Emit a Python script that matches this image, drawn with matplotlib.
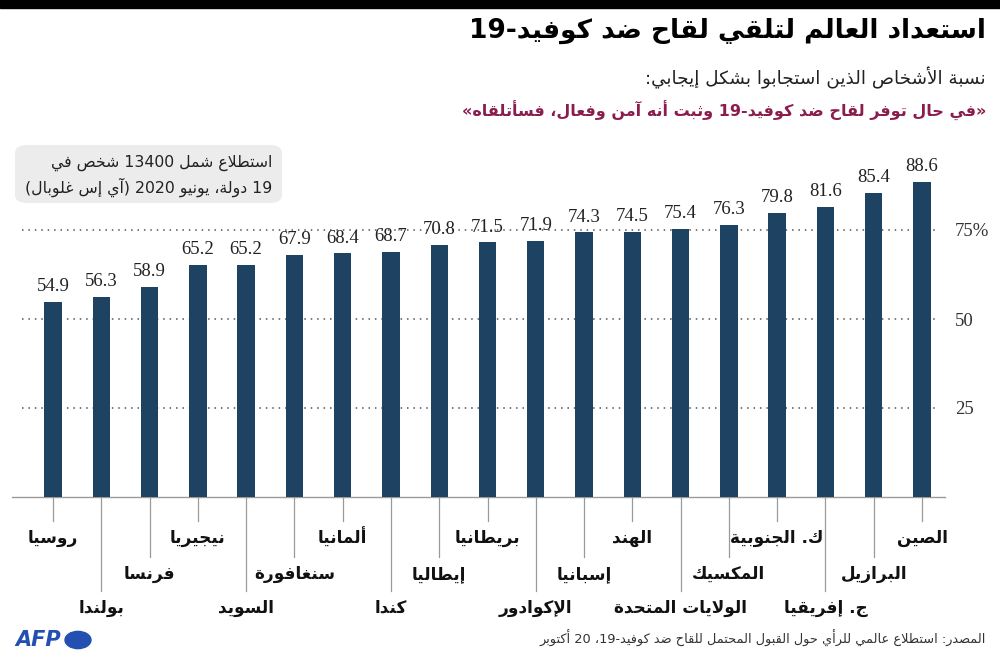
import re
import matplotlib
matplotlib.use('Agg')
import matplotlib.pyplot as plt
from matplotlib.patches import FancyBboxPatch, Circle
from matplotlib.transforms import blended_transform_factory

# --- data ---
countries = ['روسيا', 'بولندا', 'فرنسا', 'نيجيريا', 'السويد', 'سنغافورة', 'ألمانيا',
             'كندا', 'إيطاليا', 'بريطانيا', 'الإكوادور', 'إسبانيا', 'الهند',
             'الولايات المتحدة', 'المكسيك', 'ك. الجنوبية', 'ج. إفريقيا', 'البرازيل', 'الصين']
values = [54.9, 56.3, 58.9, 65.2, 65.2, 67.9, 68.4, 68.7, 70.8, 71.5,
          71.9, 74.3, 74.5, 75.4, 76.3, 79.8, 81.6, 85.4, 88.6]
yticks = [25, 50, 75]
ytick_labels = ['25', '50', '75%']

title = 'استعداد العالم لتلقي لقاح ضد كوفيد-19'
subtitle = 'نسبة الأشخاص الذين استجابوا بشكل إيجابي:'
quote = '«في حال توفر لقاح ضد كوفيد-19 وثبت أنه آمن وفعال، فسأتلقاه»'
note1 = 'استطلاع شمل 13400 شخص في'
note2 = '19 دولة، يونيو 2020 (آي إس غلوبال)'
source = 'المصدر: استطلاع عالمي للرأي حول القبول المحتمل للقاح ضد كوفيد-19، 20 أكتوبر'


# --- tiny arabic shaper + bidi (matplotlib has no complex text layout) ---
def _dual(b):
    return (b, b + 1, b + 2, b + 3)

def _right(b):
    return (b, b + 1)

FORMS = {
    'ء': (0xFE80,), 'آ': _right(0xFE81), 'أ': _right(0xFE83), 'ؤ': _right(0xFE85),
    'إ': _right(0xFE87), 'ئ': _dual(0xFE89), 'ا': _right(0xFE8D), 'ب': _dual(0xFE8F),
    'ة': _right(0xFE93), 'ت': _dual(0xFE95), 'ث': _dual(0xFE99), 'ج': _dual(0xFE9D),
    'ح': _dual(0xFEA1), 'خ': _dual(0xFEA5), 'د': _right(0xFEA9), 'ذ': _right(0xFEAB),
    'ر': _right(0xFEAD), 'ز': _right(0xFEAF), 'س': _dual(0xFEB1), 'ش': _dual(0xFEB5),
    'ص': _dual(0xFEB9), 'ض': _dual(0xFEBD), 'ط': _dual(0xFEC1), 'ظ': _dual(0xFEC5),
    'ع': _dual(0xFEC9), 'غ': _dual(0xFECD), 'ف': _dual(0xFED1), 'ق': _dual(0xFED5),
    'ك': _dual(0xFED9), 'ل': _dual(0xFEDD), 'م': _dual(0xFEE1), 'ن': _dual(0xFEE5),
    'ه': _dual(0xFEE9), 'و': _right(0xFEED), 'ى': _right(0xFEEF), 'ي': _dual(0xFEF1),
}
LAMALEF = {'آ': (0xFEF5, 0xFEF6), 'أ': (0xFEF7, 0xFEF8),
           'إ': (0xFEF9, 0xFEFA), 'ا': (0xFEFB, 0xFEFC)}
MIRROR = str.maketrans('()«»', ')(»«')


def shape(s):
    out = []
    prev_joins = False
    i = 0
    while i < len(s):
        c = s[i]
        if c == 'ل' and i + 1 < len(s) and s[i + 1] in LAMALEF:
            out.append(chr(LAMALEF[s[i + 1]][1 if prev_joins else 0]))
            prev_joins = False
            i += 2
            continue
        if c not in FORMS:
            out.append(c)
            prev_joins = False
            i += 1
            continue
        f = FORMS[c]
        nxt = s[i + 1] if i + 1 < len(s) else ''
        next_joins = len(f) == 4 and nxt in FORMS and nxt != 'ء'
        if len(f) == 1:
            form = f[0]
        elif prev_joins and next_joins:
            form = f[3]
        elif prev_joins:
            form = f[1]
        elif next_joins:
            form = f[2]
        else:
            form = f[0]
        out.append(chr(form))
        prev_joins = next_joins
        i += 1
    return ''.join(out)


def ar(s):
    parts = re.split(r'([0-9A-Za-z][0-9A-Za-z.%]*)', shape(s))
    vis = [p if k % 2 else p[::-1].translate(MIRROR) for k, p in enumerate(parts)]
    return ''.join(vis[::-1])


AR = ['DejaVu Sans']
SERIF = ['Liberation Serif', 'DejaVu Serif']
BAR = '#1d4262'

W, H = 1000, 663
fig = plt.figure(figsize=(10, 6.63), dpi=100)

def fx(px):
    return px / W

def fy(py):
    return 1 - py / H

# top black band
fig.patches.append(plt.Rectangle((0, fy(8)), 1, 8 / H, transform=fig.transFigure,
                                 color='black', zorder=0))

ax = fig.add_axes([fx(12), fy(497), 933 / W, (497 - 141) / H])
x = list(range(len(values)))
ax.bar(x, values, width=0.36, color=BAR, zorder=3)
ax.set_xlim(-0.849, 18.476)
ax.set_ylim(0, 100)

for v, xi in zip(values, x):
    ax.annotate(f'{v}', (xi, v), xytext=(0, 5), textcoords='offset points',
                ha='center', va='bottom', fontsize=13.5, family=SERIF, color='#222222')

for yt in yticks:
    ax.axhline(yt, xmin=0.011, xmax=0.99, color='#555555', lw=1.1,
               linestyle=(0, (1, 3.2)), zorder=1)

for s in ['top', 'left', 'right']:
    ax.spines[s].set_visible(False)
ax.spines['bottom'].set_color('#9a9a9a')
ax.spines['bottom'].set_linewidth(1)
ax.set_xticks([])
ax.yaxis.tick_right()
ax.set_yticks(yticks)
ax.set_yticklabels(ytick_labels, family=SERIF, fontsize=13.5, color='#333333')
ax.tick_params(axis='y', length=0, pad=7)

# staggered country labels with leader lines
tr = blended_transform_factory(ax.transData, fig.transFigure)
line_end = [521, 557, 591]
text_y = [538, 574, 608]
for xi, name in zip(x, countries):
    lvl = [0, 2, 1][xi % 3]
    ax.plot([xi, xi], [fy(498), fy(line_end[lvl])], transform=tr, color='#9a9a9a',
            lw=0.9, clip_on=False)
    ax.text(xi, fy(text_y[lvl]), ar(name), transform=tr, ha='center', va='center',
            fontsize=12.2, fontweight='bold', family=AR, color='#111111')

# titles
fig.text(fx(986), fy(31), ar(title), ha='right', va='center', fontsize=19,
         fontweight='bold', family=AR, color='black')
fig.text(fx(986), fy(78), ar(subtitle), ha='right', va='center', fontsize=13.2,
         family=AR, color='#222222')
fig.text(fx(986), fy(111), ar(quote), ha='right', va='center', fontsize=11.5,
         fontweight='bold', family=AR, color='#8a1d4d')

# note box
box = FancyBboxPatch((fx(15), fy(203)), fx(267), (203 - 145) / H,
                     boxstyle='round,pad=0,rounding_size=0.012',
                     transform=fig.transFigure, facecolor='#ececec', edgecolor='none')
fig.patches.append(box)
fig.text(fx(272), fy(163), ar(note1), ha='right', va='center', fontsize=11.3,
         family=AR, color='#222222')
fig.text(fx(272), fy(187), ar(note2), ha='right', va='center', fontsize=11.3,
         family=AR, color='#222222')

# footer
fig.text(fx(986), fy(638), ar(source), ha='right', va='center', fontsize=9.3,
         family=AR, color='#333333')
fig.text(fx(15), fy(640), 'AFP', ha='left', va='center', fontsize=15,
         fontweight='bold', style='italic', family=['DejaVu Sans'], color='#2350b0')
fig.patches.append(Circle((fx(78), fy(640)), 13 / W, transform=fig.transFigure,
                          color='#2350b0'))

fig.savefig('out.png', dpi=100)
